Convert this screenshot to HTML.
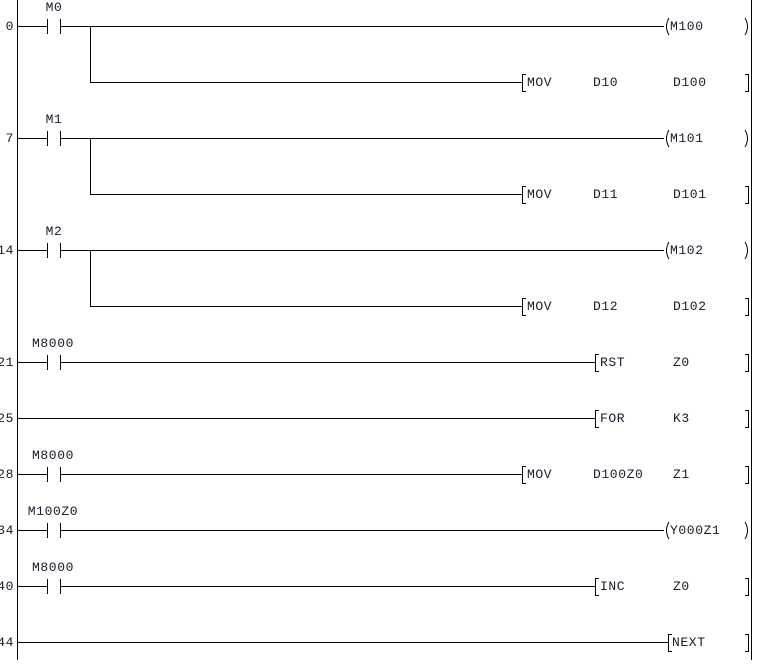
<!DOCTYPE html>
<html><head><style>
html,body{margin:0;padding:0;background:#fff;}
svg text{font-family:"Liberation Mono","DejaVu Sans Mono",monospace;font-size:13px;letter-spacing:0.6px;fill:#1a1a2a;}
</style></head><body>
<svg width="758" height="660" xmlns="http://www.w3.org/2000/svg">
<g stroke="#000" stroke-width="1" fill="none" shape-rendering="crispEdges">
<line x1="17.5" y1="0" x2="17.5" y2="660"/>
<line x1="751.5" y1="0" x2="751.5" y2="660"/>
<path d="M17 26.5H47 M61 26.5H664 M90.5 26 V82.5 H522"/>
<path d="M17 138.5H47 M61 138.5H664 M90.5 138 V194.5 H522"/>
<path d="M17 250.5H47 M61 250.5H664 M90.5 250 V306.5 H522"/>
<path d="M17 362.5H47 M61 362.5H595"/>
<path d="M17 418.5H595"/>
<path d="M17 474.5H47 M61 474.5H522"/>
<path d="M17 530.5H47 M61 530.5H664"/>
<path d="M17 586.5H47 M61 586.5H595"/>
<path d="M17 642.5H668"/>
<path d="M47.5 19V34 M60.5 19V34"/>
<path d="M47.5 131V146 M60.5 131V146"/>
<path d="M47.5 243V258 M60.5 243V258"/>
<path d="M47.5 355V370 M60.5 355V370"/>
<path d="M47.5 467V482 M60.5 467V482"/>
<path d="M47.5 523V538 M60.5 523V538"/>
<path d="M47.5 579V594 M60.5 579V594"/>
<path d="M526 74.5H522.5V91.5H526 M745 74.5 H748.5 V91.5 H745"/>
<path d="M526 186.5H522.5V203.5H526 M745 186.5 H748.5 V203.5 H745"/>
<path d="M526 298.5H522.5V315.5H526 M745 298.5 H748.5 V315.5 H745"/>
<path d="M599 354.5H595.5V371.5H599 M745 354.5 H748.5 V371.5 H745"/>
<path d="M599 410.5H595.5V427.5H599 M745 410.5 H748.5 V427.5 H745"/>
<path d="M526 466.5H522.5V483.5H526 M745 466.5 H748.5 V483.5 H745"/>
<path d="M599 578.5H595.5V595.5H599 M745 578.5 H748.5 V595.5 H745"/>
<path d="M672 634.5H668.5V651.5H672 M745 634.5 H748.5 V651.5 H745"/>
</g>
<g stroke="#000" stroke-width="1" fill="none">
<path d="M669 18 Q664 26.5 669 35 M745 18 Q750 26.5 745 35"/>
<path d="M669 130 Q664 138.5 669 147 M745 130 Q750 138.5 745 147"/>
<path d="M669 242 Q664 250.5 669 259 M745 242 Q750 250.5 745 259"/>
<path d="M669 522 Q664 530.5 669 539 M745 522 Q750 530.5 745 539"/>
</g>
<g>
<text x="14" y="30" text-anchor="end">0</text>
<text x="14" y="142" text-anchor="end">7</text>
<text x="14" y="254" text-anchor="end">14</text>
<text x="14" y="366" text-anchor="end">21</text>
<text x="14" y="422" text-anchor="end">25</text>
<text x="14" y="478" text-anchor="end">28</text>
<text x="14" y="534" text-anchor="end">34</text>
<text x="14" y="590" text-anchor="end">40</text>
<text x="14" y="646" text-anchor="end">44</text>
<text x="54" y="11" text-anchor="middle">M0</text>
<text x="54" y="123" text-anchor="middle">M1</text>
<text x="54" y="235" text-anchor="middle">M2</text>
<text x="53" y="347" text-anchor="middle">M8000</text>
<text x="53" y="459" text-anchor="middle">M8000</text>
<text x="53" y="515" text-anchor="middle">M100Z0</text>
<text x="53" y="571" text-anchor="middle">M8000</text>
<text x="670" y="30">M100</text>
<text x="670" y="142">M101</text>
<text x="670" y="254">M102</text>
<text x="670" y="534">Y000Z1</text>
<text x="527" y="86">MOV</text><text x="593" y="86">D10</text><text x="673" y="86">D100</text>
<text x="527" y="198">MOV</text><text x="593" y="198">D11</text><text x="673" y="198">D101</text>
<text x="527" y="310">MOV</text><text x="593" y="310">D12</text><text x="673" y="310">D102</text>
<text x="600" y="366">RST</text><text x="673" y="366">Z0</text>
<text x="600" y="422">FOR</text><text x="673" y="422">K3</text>
<text x="527" y="478">MOV</text><text x="593" y="478">D100Z0</text><text x="673" y="478">Z1</text>
<text x="600" y="590">INC</text><text x="673" y="590">Z0</text>
<text x="672" y="646">NEXT</text>
</g>
</svg>
</body></html>
